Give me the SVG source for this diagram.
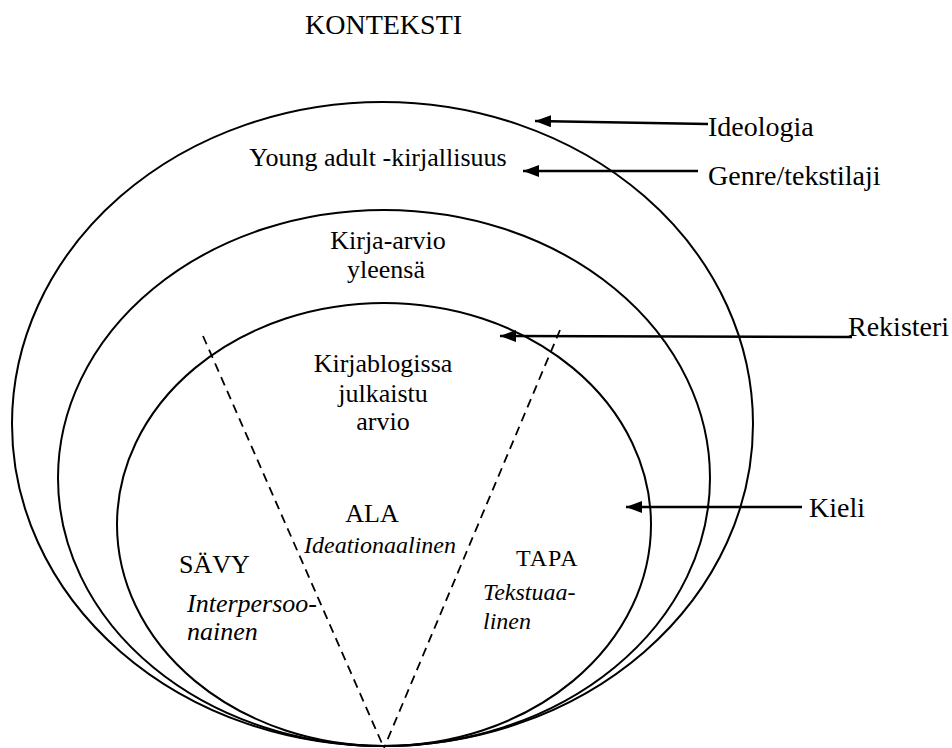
<svg xmlns="http://www.w3.org/2000/svg" width="952" height="748" viewBox="0 0 952 748">
<defs>
<marker id="ah" viewBox="0 0 16 12" refX="16" refY="6" markerWidth="16" markerHeight="12" markerUnits="userSpaceOnUse" orient="auto">
<path d="M0,0 L16,6 L0,12 Z" fill="#000"/>
</marker>
<style>
.t{font-size:26px}
.r{font-size:28px}
.i{font-size:26px;font-style:italic}
.s{font-size:24px;font-style:italic}
.c{font-size:24px;letter-spacing:1px}
.e{fill:none;stroke:#000;stroke-width:2}
.d{fill:none;stroke:#000;stroke-width:1.8;stroke-dasharray:9 6}
.a{fill:none;stroke:#000;stroke-width:2.5}
</style>
</defs>
<rect width="952" height="748" fill="#fff"/>
<g font-family="'Liberation Serif', 'Times New Roman', serif" fill="#000">
<text class="r" x="305" y="34">KONTEKSTI</text>
<g id="outer"><ellipse class="e" cx="382.5" cy="424" rx="370.5" ry="322"/><text class="t" x="378" y="166" text-anchor="middle">Young adult -kirjallisuus</text></g>
<g id="middle"><ellipse class="e" cx="384" cy="478" rx="326" ry="268"/><text class="t" x="388" y="249" text-anchor="middle">Kirja-arvio</text><text class="t" x="386" y="278" text-anchor="middle">yleensä</text></g>
<g id="inner"><ellipse class="e" cx="384" cy="524.5" rx="267" ry="221.5"/><text class="t" x="383" y="372" text-anchor="middle">Kirjablogissa</text><text class="t" x="383" y="402" text-anchor="middle">julkaistu</text><text class="t" x="383" y="430" text-anchor="middle">arvio</text></g>
<g id="dividers"><line class="d" x1="203" y1="336" x2="384" y2="748"/><line class="d" x1="560" y1="330" x2="384" y2="748"/></g>
<g id="ala"><text class="t" x="372" y="522" text-anchor="middle">ALA</text><text class="s" x="380" y="553" text-anchor="middle">Ideationaalinen</text></g>
<g id="savy"><text class="t" x="179" y="573">SÄVY</text><text class="i" x="187" y="612">Interpersoo-</text><text class="i" x="187" y="640">nainen</text></g>
<g id="tapa"><text class="c" x="516" y="566">TAPA</text><text class="s" x="483" y="600">Tekstuaa-</text><text class="s" x="483" y="629">linen</text></g>
<g id="labels"><text class="r" x="708" y="136">Ideologia</text><text class="r" x="708" y="185">Genre/tekstilaji</text><text class="r" x="848" y="336">Rekisteri</text><text class="r" x="809" y="517">Kieli</text></g>
</g>
<g id="connectors">
<line class="a" x1="708" y1="124" x2="535" y2="121" marker-end="url(#ah)"/>
<line class="a" x1="698" y1="171" x2="523" y2="171" marker-end="url(#ah)"/>
<line class="a" x1="852" y1="337" x2="500" y2="336" marker-end="url(#ah)"/>
<line class="a" x1="802" y1="507" x2="626" y2="507" marker-end="url(#ah)"/>
</g>
</svg>
